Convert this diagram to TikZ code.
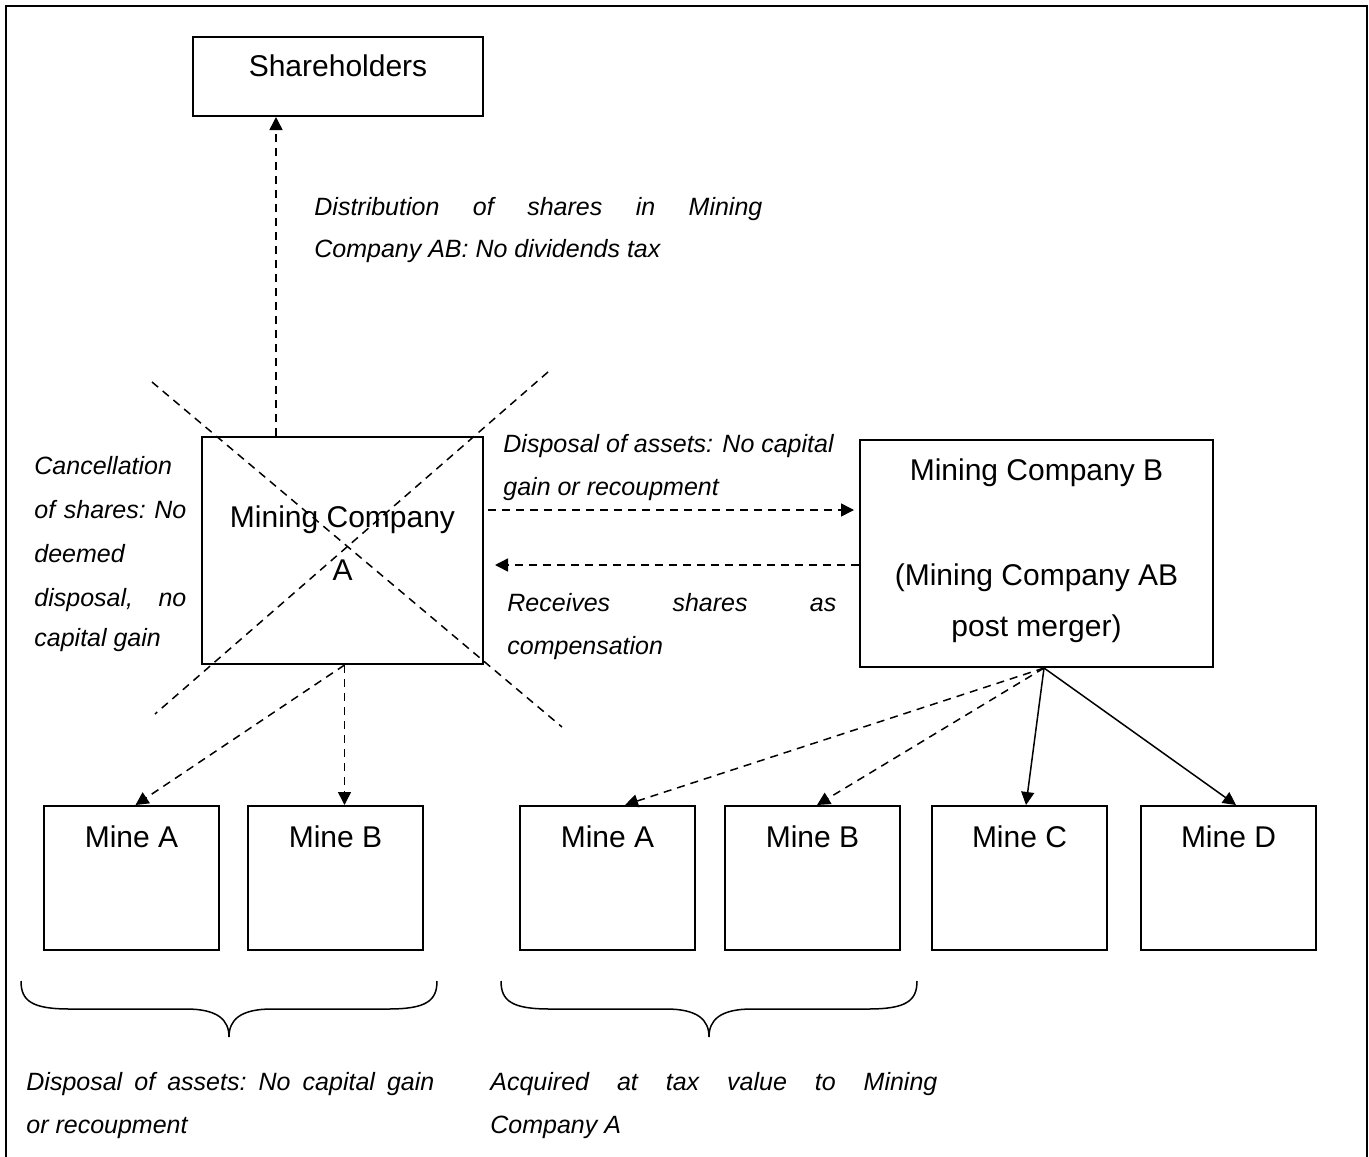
\documentclass[tikz,border=0pt]{standalone}
\usepackage{fontspec}
\setmainfont{Liberation Sans}
\usetikzlibrary{arrows.meta}
\begin{document}
\begin{tikzpicture}[x=0.5pt,y=-0.5pt,
  box/.style={draw,line width=1pt,inner sep=0pt},
  mine/.style={box,minimum width=87.5pt,minimum height=72pt},
  title/.style={font=\fontsize{15}{18}\selectfont,anchor=base,inner sep=0pt},
  note/.style={font=\fontsize{12.5}{15}\selectfont\itshape,anchor=base west,inner sep=0pt},
  dline/.style={line width=0.75pt,dash pattern=on 4pt off 3pt},
  darr/.style={dline,-{Triangle[length=6.5pt,width=6.5pt]}},
  sarr/.style={line width=0.75pt,-{Triangle[length=6.5pt,width=6.5pt]}},
  brc/.style={line width=0.75pt}]

\useasboundingbox (0,0) rectangle (1369,1156);
% open frame
\draw[line width=1pt] (6,1160) -- (6,6) -- (1367,6) -- (1367,1160);

% boxes
\node[box,minimum width=145pt,minimum height=39.5pt] (sh) at (338,76.5) {};
\node[box,minimum width=140.5pt,minimum height=113.5pt] (mA) at (342.5,550.5) {};
\node[box,minimum width=176.5pt,minimum height=113.5pt] (mB) at (1036.5,553.5) {};
\node[mine] (a1) at (131.5,878) {};
\node[mine] (b1) at (335.5,878) {};
\node[mine] (a2) at (607.5,878) {};
\node[mine] (b2) at (812.5,878) {};
\node[mine] (c2) at (1019.5,878) {};
\node[mine] (d2) at (1228.5,878) {};

% box captions
\node[title] (shT) at (338,76) {Shareholders};
\node[title] (mAT1) at (342.5,527) {Mining Company};
\node[title] (mAT2) at (342.5,580) {A};
\node[title] (mBT1) at (1036.5,480) {Mining Company B};
\node[title] (mBT2) at (1036.5,585) {(Mining Company AB};
\node[title] (mBT3) at (1036.5,636) {post merger)};
\node[title] (a1T) at (131.5,847) {Mine A};
\node[title] (b1T) at (335.5,847) {Mine B};
\node[title] (a2T) at (607.5,847) {Mine A};
\node[title] (b2T) at (812.5,847) {Mine B};
\node[title] (c2T) at (1019.5,847) {Mine C};
\node[title] (d2T) at (1228.5,847) {Mine D};

% crossing out Mining Company A
\draw[dline] (152,382) -- (562,727);
\draw[dline] (548,372) -- (155,714);

% connectors
\draw[darr] ([xshift=-33.25pt]mA.north) -- ([xshift=-33.25pt]mA.north |- sh.south);
\draw[darr,shorten <=2pt,shorten >=2.5pt] ([yshift=20.25pt]mA.east) -- ([yshift=20.25pt]mA.east -| mB.west);
\draw[darr,shorten >=5.5pt] ([yshift=-5.75pt]mB.west) -- ([yshift=-5.75pt]mB.west -| mA.east);
\draw[darr] ([xshift=1pt]mA.south) -- ([xshift=1pt]mA.south |- b1.north);
\draw[darr] ([xshift=1pt]mA.south) -- ([xshift=2pt]a1.north);
\draw[darr] ([xshift=3.75pt]mB.south) -- ([xshift=8.75pt]a2.north);
\draw[darr] ([xshift=3.75pt]mB.south) -- ([xshift=2.25pt]b2.north);
\draw[sarr] ([xshift=3.75pt]mB.south) -- ([xshift=3.25pt]c2.north);
\draw[sarr] ([xshift=3.75pt]mB.south) -- ([xshift=3.75pt]d2.north);

% notes
\node[note] (n1a) at (314,215) {\makebox[224pt][l]{Distribution\hfill of\hfill shares\hfill in\hfill Mining}};
\node[note] (n1b) at (314,257) {Company AB: No dividends tax};

\node[note] (n2a) at (34,474) {Cancellation};
\node[note] (n2b) at (34,518) {\makebox[76pt][l]{of\hfill shares:\hfill No}};
\node[note] (n2c) at (34,562) {deemed};
\node[note] (n2d) at (34,606) {\makebox[76pt][l]{disposal,\hfill no}};
\node[note] (n2e) at (34,646) {capital gain};

\node[note] (n3a) at (503,452) {Disposal of assets: No capital};
\node[note] (n3b) at (503,495) {gain or recoupment};

\node[note] (n4a) at (507,611) {\makebox[164.5pt][l]{Receives\hfill shares\hfill as}};
\node[note] (n4b) at (507,654) {compensation};

\node[note] (n5a) at (26,1090) {\makebox[204pt][l]{Disposal\hfill of\hfill assets:\hfill No\hfill capital\hfill gain}};
\node[note] (n5b) at (26,1133) {or recoupment};

\node[note] (n6a) at (490,1090) {\makebox[223.5pt][l]{Acquired\hfill at\hfill tax\hfill value\hfill to\hfill Mining}};
\node[note] (n6b) at (490,1133) {Company A};

% braces under the mines
\draw[brc] (21,981) .. controls (21,1001) and (32,1009) .. (70,1009) -- (186,1009)
  .. controls (218,1009) and (229,1020) .. (229,1037)
  .. controls (229,1020) and (240,1009) .. (272,1009) -- (388,1009)
  .. controls (426,1009) and (437,1001) .. (437,981);
\draw[brc] (501,981) .. controls (501,1001) and (512,1009) .. (550,1009) -- (666,1009)
  .. controls (698,1009) and (709,1020) .. (709,1037)
  .. controls (709,1020) and (720,1009) .. (752,1009) -- (868,1009)
  .. controls (906,1009) and (917,1001) .. (917,981);
\end{tikzpicture}
\end{document}
